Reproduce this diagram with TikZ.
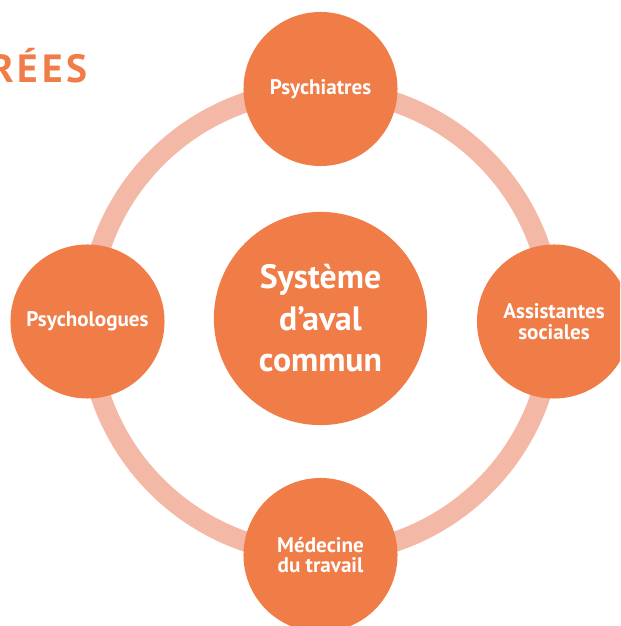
\documentclass[tikz,border=0pt]{standalone}
\usepackage{fontspec}
\setmainfont{PT Sans}
\usetikzlibrary{calc}

\definecolor{orangefonce}{HTML}{F07C47}
\definecolor{saumon}{HTML}{F4B8A6}

\tikzset{
  metier/.style={circle, fill=orangefonce, minimum size=3.85cm, inner sep=0pt,
    text=white, align=center, font=\bfseries\fontsize{15}{14.5}\selectfont},
  systeme/.style={circle, fill=orangefonce, minimum size=5.33cm, inner sep=0pt,
    text=white, align=center, font=\bfseries\fontsize{24}{29.5}\selectfont},
  anneau/.style={draw=saumon, line width=0.5cm},
  titre/.style={text=orangefonce, inner sep=0pt,
    font=\bfseries\fontsize{28}{28}\selectfont\addfontfeature{LetterSpace=10}}
}

\begin{document}
\begin{tikzpicture}[x=0.025cm, y=0.025cm]
\useasboundingbox (0,0) rectangle (620,626);
\clip (0,0) rectangle (620,626);
\coordinate (O) at (320.5,304);

% anneau
\draw[anneau] (O) circle (232);

% titre coupe
\node[titre, anchor=base east] (TITRE) at (88,543) {RÉES};

\node[systeme] (SYS) at (320.5,307.5) {Système\\d’aval\\commun};
\node[metier] (PSY) at (320.5,537) {Psychiatres};
\node[metier] (PSO) at (87.5,304.5) {Psychologues};
\node[metier] (ASS) at (554,304.5) {Assistantes\\sociales};
\node[metier] (MED) at (320.5,71) {Médecine\\du travail};

\end{tikzpicture}
\end{document}
